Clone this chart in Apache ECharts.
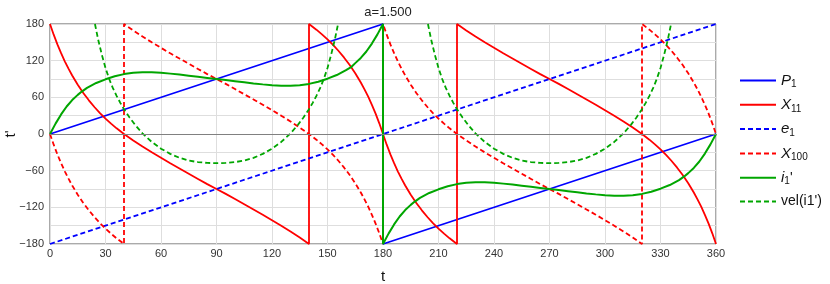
<!DOCTYPE html>
<html><head><meta charset="utf-8">
<script src="https://cdn.jsdelivr.net/npm/echarts@6/dist/echarts.min.js"></script>
<style>html,body{margin:0;padding:0;background:#fff}#c{width:830px;height:284px}</style>
</head><body><div id="c"></div>
<script>
const titleText = 'a=1.500';
const xTicks = [0,30,60,90,120,150,180,210,240,270,300,330,360];
const yTicks = [-180,-120,-60,0,60,120,180];
const seriesNames = ['P1','X11','e1','X100',"i1'","vel(i1')"];

const P1 = [[0,0],[180,180],[180,-180],[360,0]];
const e1 = [[0,-180],[360,180]];

const X11 = [
 [0,180],[2,162.5],[4,146.6],[6,132.2],[8,119],[10,106.9],[12,95.8],[15,80.7],[18,67.2],[21,55.1],[24,44.2],[27,34.2],[30,25.2],[33,16.9],[36,9.3],[40,0],
 [45,-10.5],[50,-20.5],[55,-30],[60,-39],[65,-48],[70,-56.5],[75,-65],[80,-73.5],[85,-82],[90,-90],[95,-98],[100,-106.5],[105,-115],[110,-123.5],[115,-132],[120,-141],[125,-150],[130,-159.5],[135,-169.5],[140,-180],
 [140,180],[144,170.7],[147,163.1],[150,154.8],[153,145.8],[156,135.8],[159,124.9],[162,112.8],[165,99.3],[168,84.2],[170,73.1],[172,61],[174,47.8],[176,33.4],[178,17.5],[180,0],
 [182,-17.5],[184,-33.4],[186,-47.8],[188,-61],[190,-73.1],[192,-84.2],[195,-99.3],[198,-112.8],[201,-124.9],[204,-135.8],[207,-145.8],[210,-154.8],[213,-163.1],[216,-170.7],[220,-180],
 [220,180],[225,169.5],[230,159.5],[235,150],[240,141],[245,132],[250,123.5],[255,115],[260,106.5],[265,98],[270,90],[275,82],[280,73.5],[285,65],[290,56.5],[295,48],[300,39],[305,30],[310,20.5],[315,10.5],[320,0],
 [324,-9.3],[327,-16.9],[330,-25.2],[333,-34.2],[336,-44.2],[339,-55.1],[342,-67.2],[345,-80.7],[348,-95.8],[350,-106.9],[352,-119],[354,-132.2],[356,-146.6],[358,-162.5],[360,-180]
];

const X100 = [
 [0,0],[2,-17.5],[4,-33.4],[6,-47.8],[8,-61],[10,-73.1],[12,-84.2],[15,-99.3],[18,-112.8],[21,-124.9],[24,-135.8],[27,-145.8],[30,-154.8],[33,-163.1],[36,-170.7],[40,-180],
 [40,180],[45,169.5],[50,159.5],[55,150],[60,141],[65,132],[70,123.5],[75,115],[80,106.5],[85,98],[90,90],[95,82],[100,73.5],[105,65],[110,56.5],[115,48],[120,39],[125,30],[130,20.5],[135,10.5],[140,0],
 [144,-9.3],[147,-16.9],[150,-25.2],[153,-34.2],[156,-44.2],[159,-55.1],[162,-67.2],[165,-80.7],[168,-95.8],[170,-106.9],[172,-119],[174,-132.2],[176,-146.6],[178,-162.5],[180,-180],
 [180,180],[182,162.5],[184,146.6],[186,132.2],[188,119],[190,106.9],[192,95.8],[195,80.7],[198,67.2],[201,55.1],[204,44.2],[207,34.2],[210,25.2],[213,16.9],[216,9.3],[220,0],
 [225,-10.5],[230,-20.5],[235,-30],[240,-39],[245,-48],[250,-56.5],[255,-65],[260,-73.5],[265,-82],[270,-90],[275,-98],[280,-106.5],[285,-115],[290,-123.5],[295,-132],[300,-141],[305,-150],[310,-159.5],[315,-169.5],[320,-180],
 [320,180],[324,170.7],[327,163.1],[330,154.8],[333,145.8],[336,135.8],[339,124.9],[342,112.8],[345,99.3],[348,84.2],[350,73.1],[352,61],[354,47.8],[356,33.4],[358,17.5],[360,0]
];

const I1 = [
 [0,0],[3,17],[6,32],[9,45],[12,55.5],[15,64],[17,69],[20,75.5],[25,83.5],[30,89.5],[35,94.5],[40,98],[45,100.3],[50,101.2],[55,101],[60,100.2],[65,98.8],[70,97.2],[75,95.4],[80,93.6],[85,91.8],[90,90],
 [95,88.2],[100,86.4],[105,84.6],[110,82.8],[115,81.2],[120,79.8],[125,79],[130,78.8],[135,79.7],[140,82],[145,85.5],[150,90.5],[155,96.5],[160,104.5],[163,110],[165,116],[168,124.5],[171,135],[174,148],[177,163],[180,180],
 [180,-180],[183,-163],[186,-148],[189,-135],[192,-124.5],[195,-116],[197,-111],[200,-104.5],[205,-96.5],[210,-90.5],[215,-85.5],[220,-82],[225,-79.7],[230,-78.8],[235,-79],[240,-79.8],[245,-81.2],[250,-82.8],[255,-84.6],[260,-86.4],[265,-88.2],[270,-90],
 [275,-91.8],[280,-93.6],[285,-95.4],[290,-97.2],[295,-98.8],[300,-100.2],[305,-101],[310,-101.2],[315,-100.3],[320,-98],[325,-94.5],[330,-89.5],[335,-83.5],[340,-75.5],[343,-69],[345,-64],[348,-55.5],[351,-45],[354,-32],[357,-17],[360,0]
];

const VEL = [
 [24.3,180],[26,155],[28,130],[30,108],[32,90],[34,75],[36,62.5],[38,51],[40,40.5],[43,27],[46,15],[50,1],[55,-13],[60,-24],[65,-32.5],[70,-39],[75,-43.5],[80,-46],[85,-47.3],[90,-47.7],
 [95,-47.3],[100,-46],[105,-43.5],[110,-39],[115,-32.5],[120,-24],[125,-13],[130,1],[134,15],[137,27],[140,40.5],[142,51],[144,62.5],[146,75],[148,90],[150,108],[152,130],[154,155],[155.7,180],
 '-',[180,-180],[180,180],'-',
 [204.3,180],[206,155],[208,130],[210,108],[212,90],[214,75],[216,62.5],[218,51],[220,40.5],[223,27],[226,15],[230,1],[235,-13],[240,-24],[245,-32.5],[250,-39],[255,-43.5],[260,-46],[265,-47.3],[270,-47.7],
 [275,-47.3],[280,-46],[285,-43.5],[290,-39],[295,-32.5],[300,-24],[305,-13],[310,1],[314,15],[317,27],[320,40.5],[322,51],[324,62.5],[326,75],[328,90],[330,108],[332,130],[334,155],[335.7,180]
];

const FONT = '"Liberation Sans", Arial, sans-serif';
const BLUE = '#0000ff', RED = '#ff0000', GREEN = '#00a600';
const legendRich = {
  P1: '{i|P}{s|1}', X11: '{i|X}{s|11}', e1: '{i|e}{s|1}', X100: '{i|X}{s|100}',
  "i1'": "{i|i}{s|1}{n|'}", "vel(i1')": "{n|vel(i1')}"
};
function mk(name, data, color, dashed) {
  return {
    name, type: 'line', data, symbol: 'none', clip: true,
    connectNulls: false, animation: false,
    lineStyle: { color, width: 1.8, type: dashed ? [5, 3] : 'solid' },
    itemStyle: { color }
  };
}
const chart = echarts.init(document.getElementById('c'), null, { renderer: 'canvas' });
const series = [
  mk(seriesNames[0], P1, BLUE, false),
  mk(seriesNames[1], X11, RED, false),
  mk(seriesNames[2], e1, BLUE, true),
  mk(seriesNames[3], X100, RED, true),
  mk(seriesNames[4], I1, GREEN, false),
  mk(seriesNames[5], VEL, GREEN, true)
];
series[4].lineStyle.width = 2;
series[0].markLine = {
  silent: true, symbol: 'none', animation: false, label: { show: false },
  lineStyle: { color: '#808080', type: 'solid', width: 1 }, data: [{ yAxis: 0 }]
};
chart.setOption({
  animation: false,
  backgroundColor: '#fff',
  title: {
    text: titleText, left: 383, top: 1, textAlign: 'center',
    textStyle: { fontFamily: FONT, fontSize: 13, fontWeight: 'normal', color: '#222' }
  },
  grid: { left: 50, right: 114, top: 24, bottom: 40, containLabel: false, outerBoundsMode: 'none',
    show: true, borderColor: '#555', borderWidth: 1 },
  legend: {
    orient: 'vertical', left: 739, top: 73, padding: 0, itemWidth: 36, itemHeight: 14, itemGap: 7.8,
    data: seriesNames,
    itemStyle: { opacity: 0 },
    formatter: n => legendRich[n],
    textStyle: {
      fontFamily: FONT, fontSize: 14, color: '#111', padding: [0, 0, 0, 0],
      rich: {
        i: { fontStyle: 'italic', fontSize: 15, fontFamily: FONT, color: '#111', lineHeight: 18, verticalAlign: 'middle' },
        s: { fontSize: 10, fontFamily: FONT, color: '#111', lineHeight: 18, verticalAlign: 'bottom' },
        n: { fontSize: 14, fontFamily: FONT, color: '#111', lineHeight: 18, verticalAlign: 'middle' }
      }
    }
  },
  xAxis: {
    type: 'value', min: 0, max: 360, interval: 30,
    name: 't', nameLocation: 'middle', nameGap: 25,
    nameTextStyle: { fontFamily: FONT, fontSize: 15, color: '#111' },
    axisLine: { show: false }, axisTick: { show: false },
    axisLabel: { fontFamily: FONT, fontSize: 11, color: '#333', margin: 4,
      formatter: v => xTicks.includes(v) ? String(v) : '' },
    splitLine: { show: true, lineStyle: { color: '#dedede', width: 1 } }
  },
  yAxis: {
    type: 'value', min: -180, max: 180, interval: 30,
    name: '', axisLine: { show: false }, axisTick: { show: false },
    axisLabel: { fontFamily: FONT, fontSize: 11, color: '#333', margin: 6,
      formatter: v => yTicks.includes(v) ? String(v).replace('-', '\u2212') : '' },
    splitLine: { show: true, lineStyle: { color: '#dedede', width: 1 } }
  },
  graphic: [{
    type: 'text', x: 11, y: 134, rotation: Math.PI / 2,
    style: { text: "t'", font: '15px "Liberation Sans", Arial, sans-serif', fill: '#111',
      textAlign: 'center', textVerticalAlign: 'middle' }
  }],
  series
});
</script></body></html>
